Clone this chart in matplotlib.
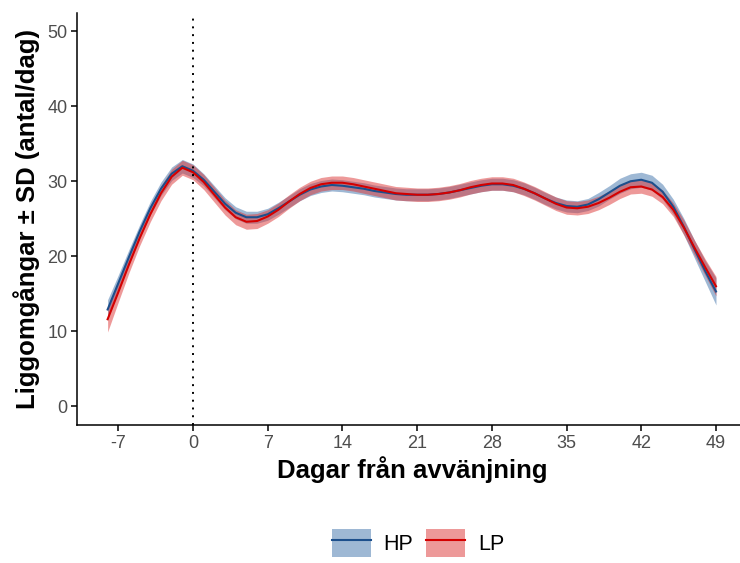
import numpy as np
import matplotlib
matplotlib.use("Agg")
import matplotlib.pyplot as plt
from matplotlib.patches import Patch
from matplotlib.lines import Line2D

plt.rcParams['font.family'] = ['Liberation Sans', 'DejaVu Sans']

days = list(range(-8, 50))

hp_mean = [12.9, 16.4, 19.9, 23.3, 26.4, 29.0, 31.0, 32.0, 31.4, 30.2, 28.6, 27.0, 25.8, 25.2,
           25.2, 25.6, 26.4, 27.3, 28.2, 28.9, 29.3, 29.5, 29.4, 29.2, 29.0, 28.7, 28.5, 28.3,
           28.2, 28.2, 28.2, 28.3, 28.5, 28.8, 29.1, 29.4, 29.6, 29.6, 29.4, 29.0, 28.4, 27.7,
           27.1, 26.7, 26.6, 26.9, 27.6, 28.5, 29.4, 30.0, 30.2, 29.8, 28.6, 26.6, 23.9, 20.9,
           18.0, 15.3]
lp_mean = [11.6, 15.2, 18.9, 22.4, 25.6, 28.4, 30.6, 31.8, 31.2, 29.9, 28.2, 26.5, 25.2, 24.6,
           24.7, 25.3, 26.2, 27.3, 28.3, 29.1, 29.6, 29.8, 29.8, 29.6, 29.3, 29.0, 28.7, 28.4,
           28.3, 28.2, 28.2, 28.3, 28.5, 28.8, 29.2, 29.5, 29.7, 29.7, 29.5, 29.0, 28.4, 27.7,
           27.0, 26.5, 26.4, 26.6, 27.1, 27.8, 28.6, 29.2, 29.3, 28.9, 27.9, 26.2, 23.8, 21.1,
           18.5, 16.0]
hp_sd = [1.3, 1.1, 1.0, 0.9, 0.9, 0.9, 0.9, 0.9, 0.9, 0.8, 0.8, 0.8, 0.8, 0.8,
         0.8, 0.8, 0.8, 0.8, 0.8, 0.8, 0.8, 0.8, 0.8, 0.8, 0.8, 0.8, 0.8, 0.8,
         0.8, 0.8, 0.8, 0.8, 0.8, 0.8, 0.8, 0.8, 0.8, 0.8, 0.8, 0.8, 0.8, 0.8,
         0.8, 0.8, 0.8, 0.8, 0.9, 0.9, 1.0, 1.0, 1.0, 1.0, 1.0, 1.0, 1.1, 1.2,
         1.4, 1.8]
lp_sd = [1.7, 1.3, 1.1, 1.0, 1.0, 1.0, 1.0, 1.0, 1.0, 1.0, 1.0, 1.0, 1.0, 1.0,
         1.0, 0.9, 0.9, 0.9, 0.9, 0.9, 0.9, 0.9, 0.9, 0.9, 0.9, 0.9, 0.9, 0.9,
         0.9, 0.9, 0.9, 0.9, 0.9, 0.9, 0.9, 0.9, 0.9, 0.9, 0.9, 0.9, 0.9, 0.9,
         0.9, 0.9, 0.9, 0.9, 0.9, 0.9, 0.9, 0.9, 0.9, 0.9, 0.9, 0.9, 1.0, 1.0,
         1.1, 1.3]

groups = ["HP", "LP"]
x_ticks = [-7, 0, 7, 14, 21, 28, 35, 42, 49]
y_ticks = [0, 10, 20, 30, 40, 50]

line_colors = {"HP": "#1c4f8c", "LP": "#d40000"}
fill_colors = {"HP": "#3f72aa", "LP": "#dd3535"}

W, H = 740, 563
fig = plt.figure(figsize=(W / 100, H / 100), dpi=100)
ax = fig.add_axes([77.2 / W, 1 - 425 / H, (746.4 - 77.2) / W, (425 - 12.5) / H])

x = np.array(days)
series = {"HP": (np.array(hp_mean), np.array(hp_sd)),
          "LP": (np.array(lp_mean), np.array(lp_sd))}

for g in groups:
    m, s = series[g]
    ax.fill_between(x, m - s, m + s, color=fill_colors[g], alpha=0.5, linewidth=0)
for g in groups:
    m, s = series[g]
    ax.plot(x, m, color=line_colors[g], linewidth=1.5)

ax.axvline(0, color="black", linestyle=(0, (1, 3)), linewidth=1.4)

span = 49 - (-8)
ax.set_xlim(-8 - 0.05 * span, 49 + 0.05 * span)
ax.set_ylim(-2.5, 52.5)
ax.set_xticks(x_ticks)
ax.set_xticklabels([str(t) for t in x_ticks])
ax.set_yticks(y_ticks)

for side in ["top", "right"]:
    ax.spines[side].set_visible(False)
for side in ["left", "bottom"]:
    ax.spines[side].set_linewidth(1.1)
    ax.spines[side].set_color("black")

ax.tick_params(axis="both", direction="out", length=4, width=1.1, colors="black",
               labelcolor="#4d4d4d", labelsize=13, pad=3)

ax.set_xlabel("Dagar från avvänjning", fontsize=18.5, fontweight="bold", labelpad=3)
ax.set_ylabel("Liggomgångar ± SD (antal/dag)", fontsize=18.5, fontweight="bold", labelpad=5)

handles = []
for g in groups:
    handles.append((Patch(facecolor=fill_colors[g], alpha=0.5, edgecolor="none"),
                    Line2D([0], [0], color=line_colors[g], linewidth=1.5)))
leg = fig.legend(handles, groups, loc="center", bbox_to_anchor=(418 / W, 1 - 543 / H),
                 ncol=2, frameon=False, fontsize=15.5, handlelength=1.8, handleheight=1.6,
                 columnspacing=0.6, handletextpad=0.6)

fig.savefig("out.png", dpi=100)
